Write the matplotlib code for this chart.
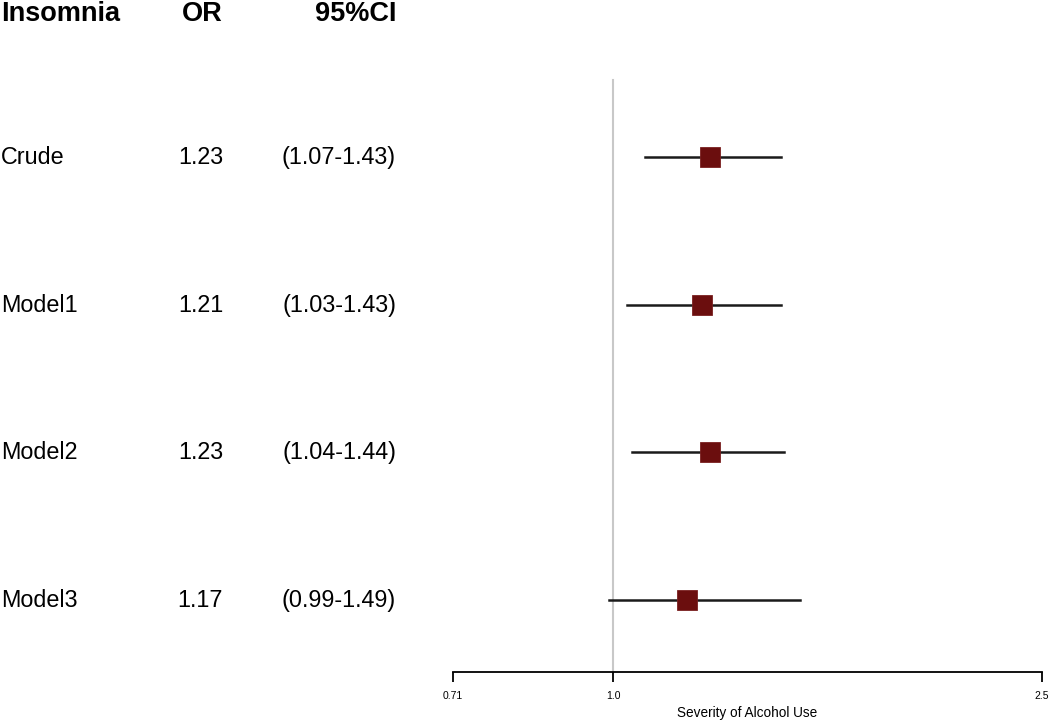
import matplotlib
matplotlib.use("Agg")
import matplotlib.pyplot as plt
from matplotlib.ticker import FixedLocator, NullLocator

plt.rcParams['font.family'] = ['Liberation Sans', 'DejaVu Sans']

labels = ["Crude", "Model1", "Model2", "Model3"]
or_values = [1.23, 1.21, 1.23, 1.17]
ci_low = [1.07, 1.03, 1.04, 0.99]
ci_high = [1.43, 1.43, 1.44, 1.49]
or_text = ["1.23", "1.21", "1.23", "1.17"]
ci_text = ["(1.07-1.43)", "(1.03-1.43)", "(1.04-1.44)", "(0.99-1.49)"]
headers = ["Insomnia", "OR", "95%CI"]
xticks = [0.71, 1.0, 2.5]
xtick_labels = ["0.71", "1.0", "2.5"]
xlabel = "Severity of Alcohol Use"

W, H = 1050, 720
fig = plt.figure(figsize=(W / 100, H / 100), dpi=100)

# row geometry (in row units)
y_top, y_bot = -1.064, 3.49
header_y = -0.97

# forest axes
ax = fig.add_axes([453 / W, 48 / H, (1042 - 453) / W, 672 / H])
ax.set_xscale('log')
ax.set_xlim(0.71, 2.5)
ax.set_ylim(y_bot, y_top)
for s in ['top', 'right', 'left']:
    ax.spines[s].set_visible(False)
ax.spines['bottom'].set_linewidth(1.3)
ax.spines['bottom'].set_color('black')
ax.yaxis.set_major_locator(NullLocator())
ax.xaxis.set_major_locator(FixedLocator(xticks))
ax.xaxis.set_minor_locator(NullLocator())
ax.set_xticklabels(xtick_labels, fontsize=7.5)
ax.tick_params(axis='x', length=7, width=1.3, pad=7)
ax.set_xlabel(xlabel, fontsize=9.8, labelpad=3)
ax.patch.set_alpha(0)

ax.plot([1.0, 1.0], [-0.52, y_bot], color='#c8c8c8', lw=1.5, zorder=1, clip_on=False)

ys = list(range(len(labels)))
for i, y in enumerate(ys):
    ax.plot([ci_low[i], ci_high[i]], [y, y], color='#1a1a1a', lw=1.8, zorder=2)
ax.plot(or_values, ys, linestyle='none', marker='s', markersize=15,
        markerfacecolor='#6b0e0e', markeredgecolor='#7a2020', markeredgewidth=0.6, zorder=3)

# text axes
tx = fig.add_axes([0, 48 / H, 1, 672 / H])
tx.set_xlim(0, W)
tx.set_ylim(y_bot, y_top)
tx.axis('off')
tx.patch.set_alpha(0)

tx.text(1, header_y, headers[0], fontsize=19.5, fontweight='bold', ha='left', va='center')
tx.text(223, header_y, headers[1], fontsize=19.5, fontweight='bold', ha='right', va='center')
tx.text(396, header_y, headers[2], fontsize=19.5, fontweight='bold', ha='right', va='center')
for i, y in enumerate(ys):
    tx.text(1, y + 0.005, labels[i], fontsize=16.8, ha='left', va='center')
    tx.text(223, y + 0.005, or_text[i], fontsize=16.8, ha='right', va='center')
    tx.text(396, y + 0.005, ci_text[i], fontsize=16.8, ha='right', va='center')

fig.savefig("out.png", dpi=100)
